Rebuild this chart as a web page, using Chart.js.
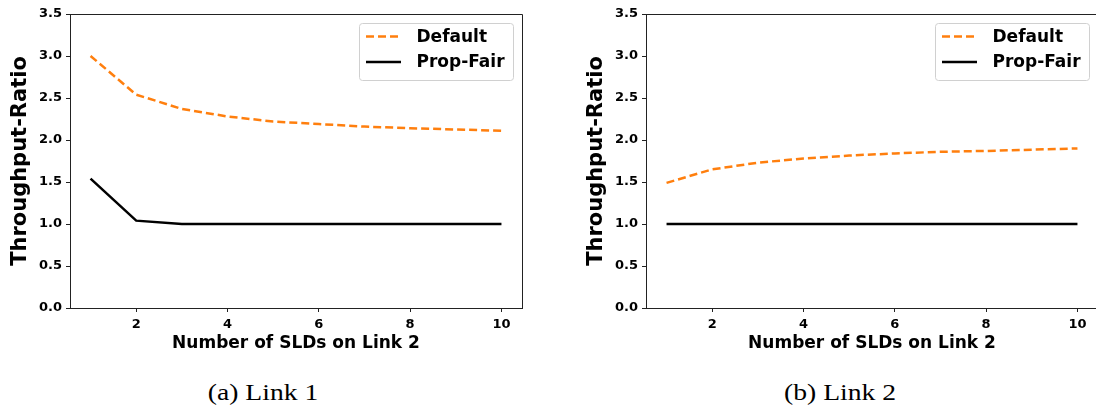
<!DOCTYPE html>
<html>
<head>
<meta charset="utf-8">
<script src="https://cdn.jsdelivr.net/npm/chart.js@4.4.1/dist/chart.umd.min.js"></script>
<style>
  html, body { margin: 0; padding: 0; background: #fff; overflow: hidden; }
  #wrap { position: relative; width: 1096px; height: 414px; }
  canvas { position: absolute; top: 0; }
  #link1 { left: 0; }
  #link2 { left: 576px; }
  .caption {
    position: absolute; top: 380px; width: 300px; text-align: center;
    font-family: 'Liberation Serif', 'Times New Roman', serif;
    font-size: 24px; line-height: 1; color: #000;
    transform: scaleX(1.15); transform-origin: center;
  }
</style>
</head>
<body>
<div id="wrap">
  <canvas id="link1" width="548" height="360"></canvas>
  <canvas id="link2" width="548" height="360"></canvas>
  <div class="caption" style="left:113px">(a) Link 1</div>
  <div class="caption" style="left:690px">(b) Link 2</div>
</div>
<script>
// number of SLDs on link 2 (x axis)
const sldCounts = [1, 2, 3, 4, 5, 6, 7, 8, 9, 10];
const xTicks = [2, 4, 6, 8, 10];
const yTicks = [0, 0.5, 1, 1.5, 2, 2.5, 3, 3.5];

// throughput ratio on link 1
const link1Default  = [3.00, 2.54, 2.37, 2.28, 2.22, 2.19, 2.16, 2.14, 2.125, 2.11];
const link1PropFair = [1.54, 1.04, 1.00, 1.00, 1.00, 1.00, 1.00, 1.00, 1.00, 1.00];

// throughput ratio on link 2
const link2Default  = [1.49, 1.65, 1.73, 1.78, 1.815, 1.84, 1.86, 1.87, 1.885, 1.90];
const link2PropFair = [1.00, 1.00, 1.00, 1.00, 1.00, 1.00, 1.00, 1.00, 1.00, 1.00];

const ORANGE = '#ff7f0e';
const FONT = "'DejaVu Sans', sans-serif";

// top and right spines, matplotlib style box
const frameBox = {
  id: 'frameBox',
  afterDatasetsDraw(chart) {
    const { ctx, chartArea: a } = chart;
    ctx.save();
    ctx.strokeStyle = '#222';
    ctx.lineWidth = 1;
    ctx.beginPath();
    ctx.moveTo(a.left, a.top + 0.5);
    ctx.lineTo(a.right + 0.5, a.top + 0.5);
    ctx.lineTo(a.right + 0.5, a.bottom);
    ctx.stroke();
    ctx.restore();
  }
};

// legend drawn inside the upper right corner of the plot
const innerLegend = {
  id: 'innerLegend',
  afterDraw(chart) {
    const { ctx, chartArea: a } = chart;
    const w = 154, h = 57;
    const x = a.right - 9 - w, y = a.top + 9;
    ctx.save();
    ctx.fillStyle = 'rgba(255,255,255,0.8)';
    ctx.strokeStyle = '#d0d0d0';
    ctx.lineWidth = 1;
    ctx.beginPath();
    ctx.roundRect(x + 0.5, y + 0.5, w, h, 3);
    ctx.fill();
    ctx.stroke();
    ctx.font = `bold 17px ${FONT}`;
    ctx.textBaseline = 'middle';
    chart.data.datasets.forEach((ds, i) => {
      const ry = y + 13.5 + i * 25.5;
      ctx.strokeStyle = ds.borderColor;
      ctx.lineWidth = ds.borderWidth;
      ctx.setLineDash(ds.borderDash || []);
      ctx.beginPath();
      ctx.moveTo(x + 7, ry);
      ctx.lineTo(x + 42, ry);
      ctx.stroke();
      ctx.setLineDash([]);
      ctx.fillStyle = '#000';
      ctx.fillText(ds.label, x + 57.5, ry + 1);
    });
    ctx.restore();
  }
};

function makeChart(id, defaultVals, fairVals) {
  const pts = vals => sldCounts.map((x, i) => ({ x, y: vals[i] }));
  return new Chart(document.getElementById(id), {
    type: 'line',
    data: {
      datasets: [
        {
          label: 'Default',
          data: pts(defaultVals),
          borderColor: ORANGE,
          borderWidth: 2.5,
          borderDash: [8, 4],
          pointRadius: 0,
          tension: 0
        },
        {
          label: 'Prop-Fair',
          data: pts(fairVals),
          borderColor: '#000',
          borderWidth: 2.5,
          pointRadius: 0,
          tension: 0
        }
      ]
    },
    options: {
      responsive: false,
      animation: false,
      layout: { padding: { top: 14, right: 26, left: 0, bottom: 0 } },
      plugins: {
        legend: { display: false },
        tooltip: { enabled: false }
      },
      scales: {
        x: {
          type: 'linear',
          min: 0.55,
          max: 10.45,
          afterBuildTicks: s => { s.ticks = xTicks.map(v => ({ value: v })); },
          afterFit: s => { s.height = 52; },
          grid: { drawOnChartArea: false, tickLength: 4, tickColor: '#222' },
          border: { color: '#222', width: 1 },
          ticks: {
            color: '#000', padding: 5, maxRotation: 0,
            font: { family: FONT, size: 13, weight: 'bold' }
          },
          title: {
            display: true,
            text: 'Number of SLDs on Link 2',
            color: '#000',
            padding: { top: 0, bottom: 6 },
            font: { family: FONT, size: 17, weight: 'bold' }
          }
        },
        y: {
          min: 0,
          max: 3.5,
          afterBuildTicks: s => { s.ticks = yTicks.map(v => ({ value: v })); },
          afterFit: s => { s.width = 70; },
          grid: { drawOnChartArea: false, tickLength: 4, tickColor: '#222' },
          border: { color: '#222', width: 1 },
          ticks: {
            color: '#000', padding: 4,
            callback: v => v.toFixed(1),
            font: { family: FONT, size: 13, weight: 'bold' }
          },
          title: {
            display: true,
            text: 'Throughput-Ratio',
            color: '#000',
            padding: { top: 8, bottom: 0 },
            font: { family: FONT, size: 21, weight: 'bold' }
          }
        }
      }
    },
    plugins: [frameBox, innerLegend]
  });
}

makeChart('link1', link1Default, link1PropFair);
makeChart('link2', link2Default, link2PropFair);
</script>
</body>
</html>
